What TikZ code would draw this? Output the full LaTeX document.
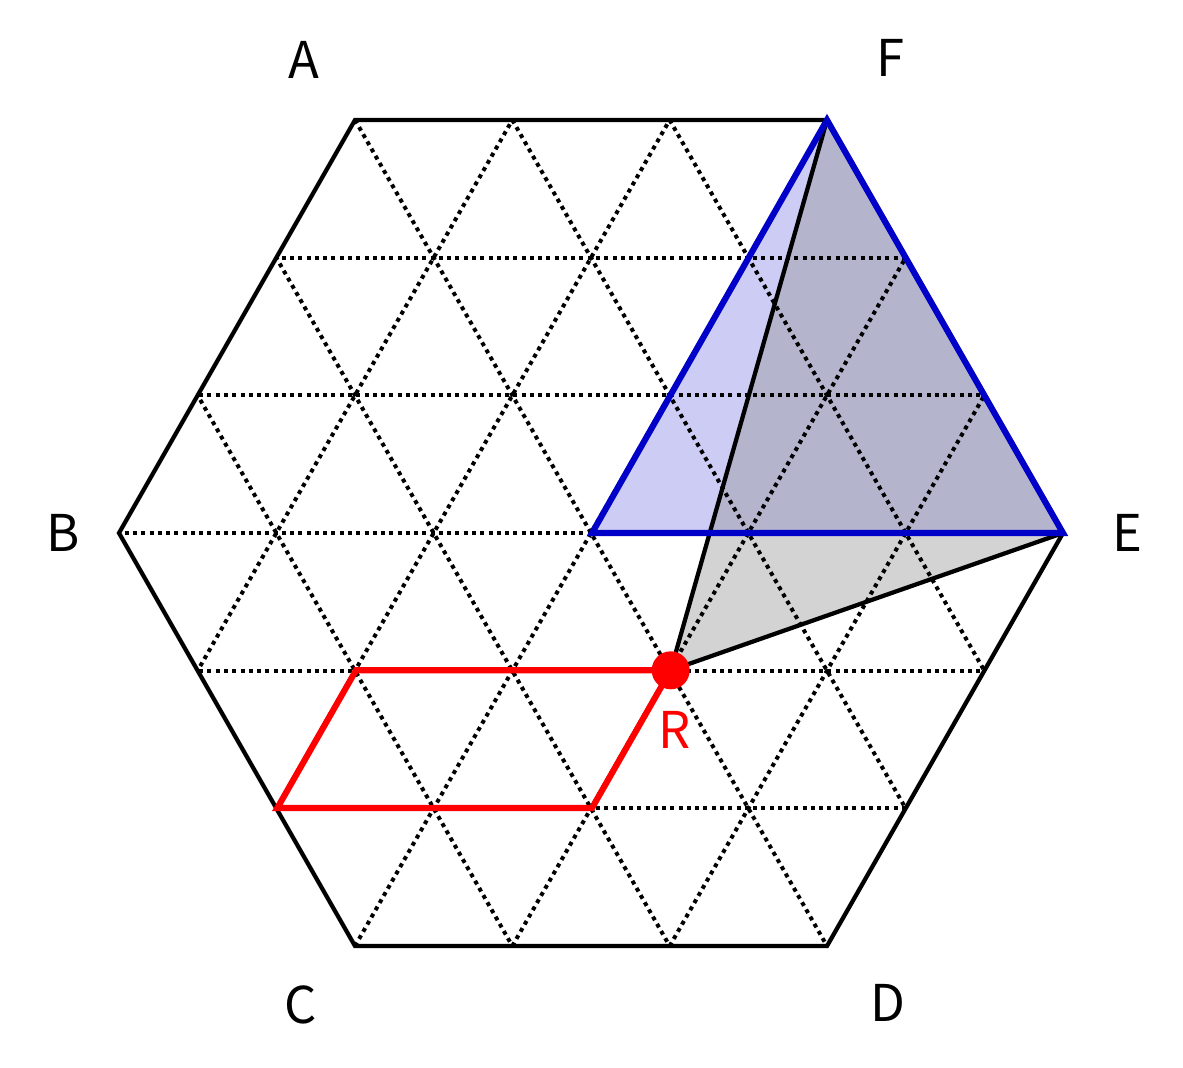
\documentclass[tikz,border=0pt]{standalone}
\usepackage{fontspec}
\setmainfont{Noto Sans CJK JP}
\definecolor{hexblue}{RGB}{0,0,200}
\definecolor{hexfill}{RGB}{204,204,245}
\definecolor{hexgray}{RGB}{148,148,148}
\tikzset{every picture/.style={line width=0.75pt}}
\tikzset{
  gridline/.style={line width=3pt, dash pattern=on 3pt off 3.2pt},
  hexedge/.style={line width=3.2pt, line join=miter},
  corner/.style={font=\fontsize{38}{40}\selectfont}
}

\begin{document}
\begin{tikzpicture}[x=0.75pt,y=0.75pt,yscale=-1,xscale=1]
	\useasboundingbox (0,0) rectangle (1183,1068);
	% lattice: u = 157.33 across, h = 137.67 per row
	\coordinate (A) at (355,120);
	\coordinate (F) at (827,120);
	\coordinate (E) at (1063,533);
	\coordinate (D) at (827,946);
	\coordinate (C) at (355,946);
	\coordinate (B) at (119,533);
	\coordinate (R) at (670.7,670.3);
	\coordinate (M) at (592,533);

	%Shape: Triangle blue
	\fill [hexfill] (M) -- (F) -- (E) -- cycle ;
	%Shape: Triangle gray
	\fill [hexgray, fill opacity=0.41] (F) -- (E) -- (R) -- cycle ;

	%Dotted grid
	\begin{scope}
		\clip (A) -- (F) -- (E) -- (D) -- (C) -- (B) -- cycle ;
		\foreach \k in {1,...,5}
			\draw [gridline] (100,120+\k*137.67) -- (1100,120+\k*137.67) ;
		\foreach \m in {1,...,5} {
			\draw [gridline] (119+\m*157.33-236,946) -- (119+\m*157.33+236,120) ;
			\draw [gridline] (119+\m*157.33-236,120) -- (119+\m*157.33+236,946) ;
		}
	\end{scope}

	%Shape: Hexagon
	\draw [hexedge] (A) -- (F) -- (E) -- (D) -- (C) -- (B) -- cycle ;

	%Straight Lines
	\draw [line width=3.2pt, line join=miter] (F) -- (R) -- (E) ;
	%Shape: Triangle outline
	\draw [hexblue, line width=4.6pt, line join=miter] (M) -- (F) -- (E) -- cycle ;
	%Shape: Parallelogram
	\draw [red, line width=4.6pt, line join=miter] (356,670.3) -- (R) -- (592,808) -- (277.3,808) -- cycle ;
	%Shape: Circle
	\fill [red] (R) circle (19) ;

	% Text Node
	\node [corner] (lA) at (304,60) {A};
	% Text Node
	\node [corner] (lF) at (890,58) {F};
	% Text Node
	\node [corner] (lB) at (63,533) {B};
	% Text Node
	\node [corner] (lE) at (1127,533) {E};
	% Text Node
	\node [corner] (lC) at (301,1005) {C};
	% Text Node
	\node [corner] (lD) at (888,1003) {D};
	% Text Node
	\node [corner, text=red] (lR) at (675,730) {R};
\end{tikzpicture}
\end{document}
